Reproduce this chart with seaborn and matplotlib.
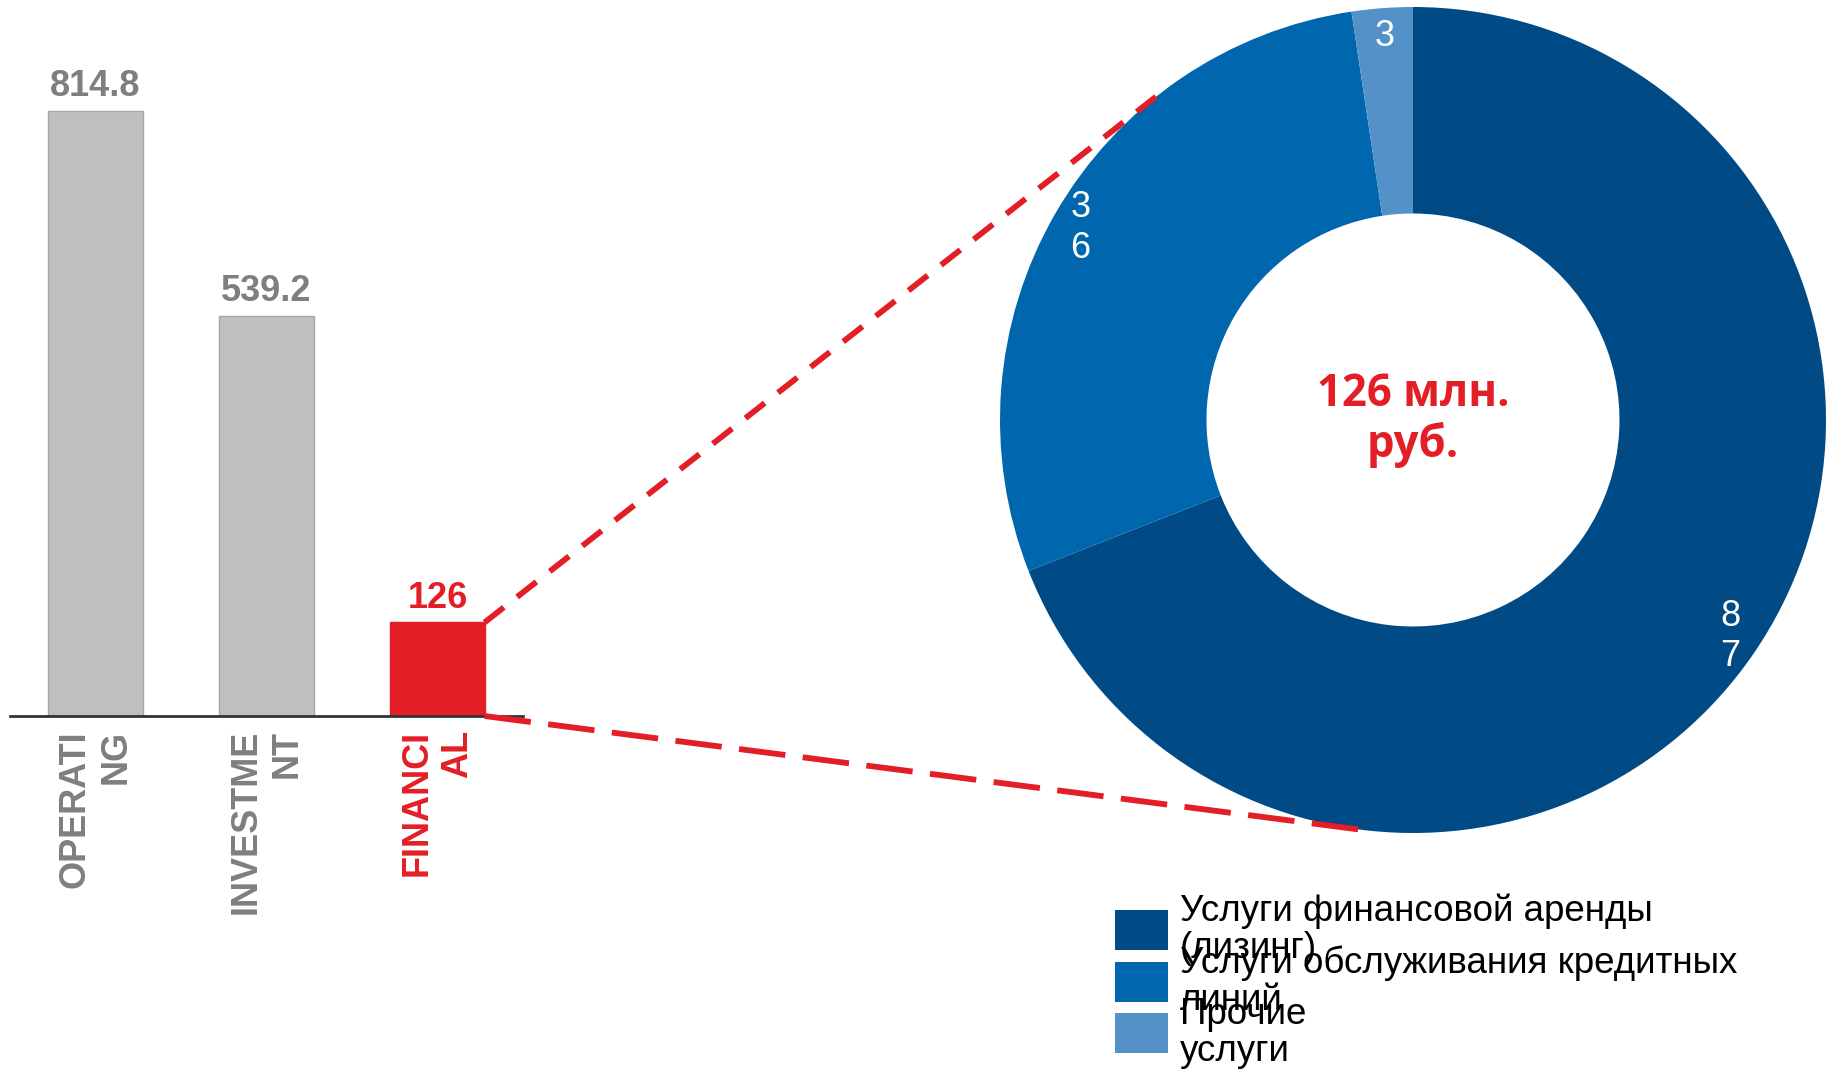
import numpy as np
import pandas as pd
import matplotlib
matplotlib.use("Agg")
import matplotlib.pyplot as plt
import seaborn as sns
from matplotlib.patches import ConnectionPatch, Rectangle

# ---------------- data ----------------
categories = ["OPERATING", "INVESTMENT", "FINANCIAL"]
tick_labels = ["OPERATI\nNG", "INVESTME\nNT", "FINANCI\nAL"]
cash_flows = [814.8, 539.2, 126]
value_labels = ["814.8", "539.2", "126"]

segments = ["Услуги финансовой аренды\n(лизинг)",
            "Услуги обслуживания кредитных\nлиний",
            "Прочие\nуслуги"]
segment_values = [87, 36, 3]
center_label = "126 млн.\nруб."

# ---------------- style ----------------
sns.set_theme(style="white")
plt.rcParams['font.family'] = ['Liberation Sans', 'DejaVu Sans']

GRAY = "#BFBFBF"
GRAY_EDGE = "#A6A6A6"
GRAY_TXT = "#7F7F7F"
RED = "#E31E26"
BLUES = ["#004A86", "#0066AE", "#5591C9"]

W, H = 1831, 1074
fig = plt.figure(figsize=(W / 100, H / 100), dpi=100)

def fx(px):
    return px / W

def fy(py):
    return 1 - py / H

# ---------------- bar chart ----------------
bar_colors = {categories[0]: GRAY, categories[1]: GRAY, categories[2]: RED}
txt_colors = [GRAY_TXT, GRAY_TXT, RED]
edge_colors = [GRAY_EDGE, GRAY_EDGE, RED]

ax = fig.add_axes([fx(10), fy(716), (523 - 10) / W, (716 - 42) / H])
df = pd.DataFrame({"cat": categories, "val": cash_flows})
sns.barplot(data=df, x="cat", y="val", hue="cat", palette=bar_colors,
            order=categories, hue_order=categories, width=0.55,
            legend=False, ax=ax, saturation=1)
ax.set_xlim(-0.5, 2.5)
ax.set_ylim(0, 908)

for i, cont in enumerate(ax.containers):
    for p in cont:
        p.set_edgecolor(edge_colors[i])
        p.set_linewidth(1.0)
    ax.bar_label(cont, labels=[value_labels[i]], padding=5,
                 fontsize=26, fontweight="bold", color=txt_colors[i])

ax.set_xticks(range(len(categories)))
ax.set_xticklabels(tick_labels, rotation=90, ha="center", va="top",
                   multialignment="right", fontsize=26, fontweight="bold")
for lbl, c in zip(ax.get_xticklabels(), txt_colors):
    lbl.set_color(c)
ax.tick_params(axis="x", length=0, pad=10)
ax.set_yticks([])
ax.set_xlabel("")
ax.set_ylabel("")
for s in ["left", "top", "right"]:
    ax.spines[s].set_visible(False)
ax.spines["bottom"].set_color("#333333")
ax.spines["bottom"].set_linewidth(2)

# ---------------- donut ----------------
R_PX = 413
cx, cy = 1413, 420
pax = fig.add_axes([fx(cx - R_PX), fy(cy + R_PX), 2 * R_PX / W, 2 * R_PX / H])
total = sum(segment_values)

def fmt(pct):
    v = int(round(pct * total / 100.0))
    return "\n".join(str(v))

wedges, texts, autotexts = pax.pie(
    segment_values, colors=BLUES, startangle=90, counterclock=False,
    radius=1.0, autopct=fmt, pctdistance=0.93,
    wedgeprops=dict(width=0.5, edgecolor="none"),
    textprops=dict(color="white", fontsize=26, linespacing=1.2))
pax.set_xlim(-1, 1)
pax.set_ylim(-1, 1)
pax.set_aspect("equal")
pax.axis("off")

pax.text(0, 0, center_label, ha="center", va="center", color=RED,
         fontsize=31.5, fontweight="bold", linespacing=1.15,
         family=["Open Sans", "DejaVu Sans"])

# ---------------- connector lines ----------------
bar_right = 2 + 0.55 / 2
a_top = np.deg2rad(127.8)
a_bot = np.deg2rad(-97.3)
con1 = ConnectionPatch(xyA=(bar_right, cash_flows[2]), coordsA=ax.transData,
                       xyB=(np.cos(a_top), np.sin(a_top)), coordsB=pax.transData,
                       color=RED, linewidth=4.2, linestyle=(0, (4.2, 2.9)),
                       capstyle="butt")
con2 = ConnectionPatch(xyA=(bar_right, 0), coordsA=ax.transData,
                       xyB=(np.cos(a_bot), np.sin(a_bot)), coordsB=pax.transData,
                       color=RED, linewidth=4.2, linestyle=(0, (8.0, 3.0)),
                       capstyle="butt")
fig.add_artist(con1)
fig.add_artist(con2)

# ---------------- legend ----------------
step = 51.5
for i, (lab, col) in enumerate(zip(segments, BLUES)):
    yc = 930 + i * step
    fig.add_artist(Rectangle((fx(1115), fy(yc + 20)), 53 / W, 40 / H,
                             transform=fig.transFigure, facecolor=col,
                             edgecolor="none"))
    fig.text(fx(1180), fy(yc), lab, ha="left", va="center", fontsize=26.5,
             color="black", linespacing=1.08)

fig.savefig("out.png", dpi=100)
